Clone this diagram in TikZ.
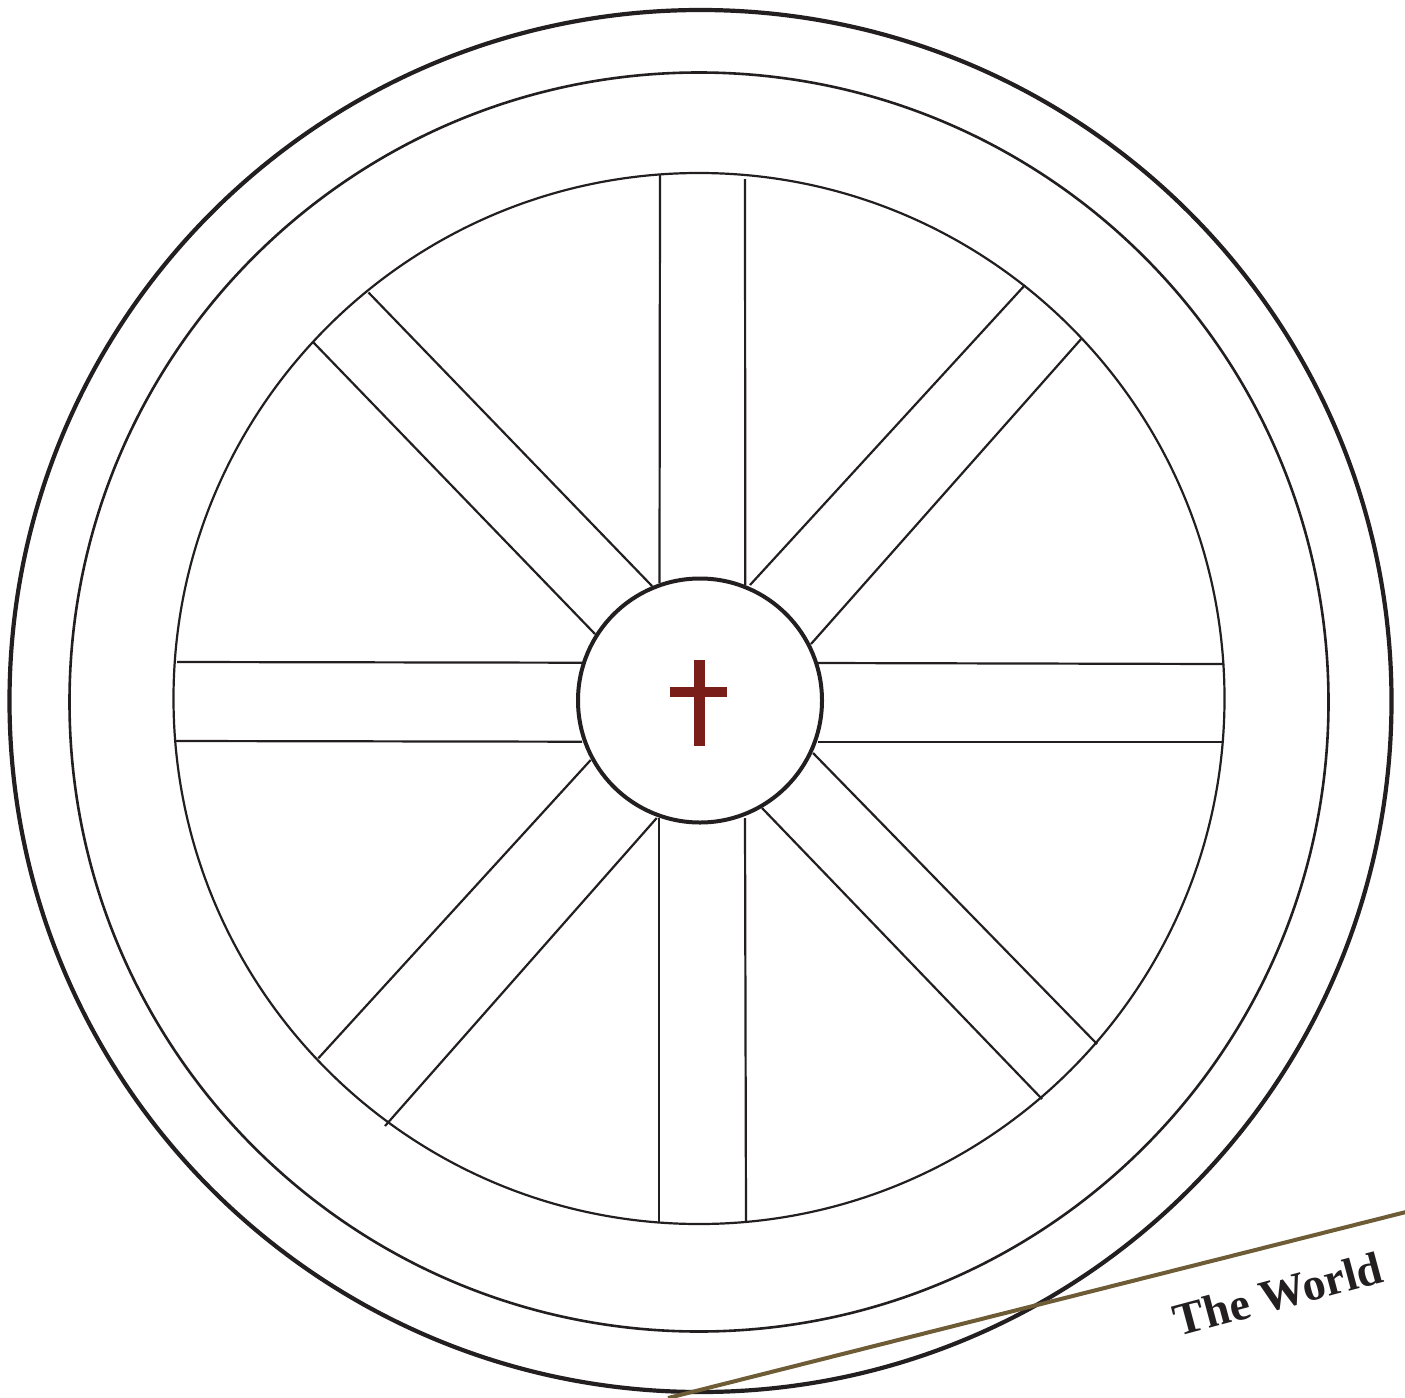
\documentclass[tikz,border=0pt]{standalone}
\usepackage{fontspec}
\setmainfont{Liberation Serif}
\definecolor{ink}{HTML}{231F20}
\definecolor{crossred}{HTML}{7A1E1A}
\definecolor{worldline}{HTML}{6D5C36}
\tikzset{
  rimthick/.style={draw=ink, line width=4.2pt},
  rimmid/.style={draw=ink, line width=2.6pt},
  rimthin/.style={draw=ink, line width=2.2pt},
  spokeline/.style={draw=ink, line width=2.2pt},
}
\begin{document}
\begin{tikzpicture}[x=1pt,y=-1pt]
\useasboundingbox (0,0) rectangle (1405,1397);
\fill[white] (0,0) rectangle (1405,1397);
% rims
\draw[rimthick] (700.5,701) circle (691);
\draw[rimmid] (699,702) circle (629.5);
\draw[rimthin] (699,698.5) circle (525.5);
% vertical spokes
\draw[spokeline] (660,174) -- (659.5,583);
\draw[spokeline] (745,179) -- (745.3,585);
\draw[spokeline] (659,818) -- (659,1223);
\draw[spokeline] (745,818) -- (746,1222);
% horizontal spokes
\draw[spokeline] (177,662) -- (582,662.7);
\draw[spokeline] (175,741) -- (582,741.7);
\draw[spokeline] (818,663) -- (1224,664);
\draw[spokeline] (818,742) -- (1224,742);
% diagonal spokes
\draw[spokeline] (368.5,292.5) -- (652,586);
\draw[spokeline] (313.5,342.5) -- (595,634);
\draw[spokeline] (750,585) -- (1025,285);
\draw[spokeline] (811,644) -- (1082,338);
\draw[spokeline] (590.7,760) -- (318.3,1058.3);
\draw[spokeline] (656.7,818) -- (385,1126);
\draw[spokeline] (813,753) -- (1097,1044);
\draw[spokeline] (762,808) -- (1042,1099);
% hub
\node[circle, draw=ink, fill=white, line width=4pt, minimum size=244pt, inner sep=0pt] (hub) at (700,700.5) {};
% cross
\fill[crossred] (694.3,660) rectangle (704.7,746);
\fill[crossred] (670.3,687.3) rectangle (727.3,697.3);
% the world
\coordinate (wa) at (668,1398);
\coordinate (wb) at (1406,1212);
\draw[worldline, line width=4pt] (wa) -- (wb);
\node[text=ink, font=\fontsize{46}{52}\selectfont\bfseries, rotate=15, inner sep=0pt] (world) at (1278,1294) {The World};
\end{tikzpicture}
\end{document}
